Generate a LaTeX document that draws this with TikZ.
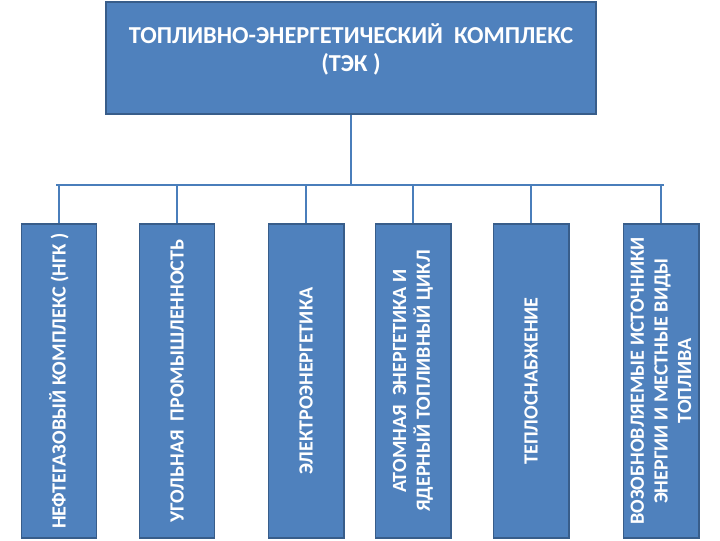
\documentclass[tikz,border=0pt]{standalone}
\usepackage{fontspec}
\setmainfont{Carlito}
\usetikzlibrary{positioning}
\definecolor{tekfill}{HTML}{4F81BD}
\definecolor{tekdraw}{HTML}{385D8A}
\definecolor{tekline}{HTML}{4A7EBB}

\begin{document}
\begin{tikzpicture}[x=0.025cm,y=-0.025cm,
  every node/.style={text=white},
  tekbox/.style={draw=tekdraw,fill=tekfill,line width=1.4pt},
  branch/.style={tekbox,rotate=90,align=center,inner sep=1pt,
    minimum width=7.85cm,minimum height=1.875cm,
    font=\bfseries\fontsize{14.3}{16.8}\selectfont},
  link/.style={tekline,line width=0.8pt}]
  \useasboundingbox (0,0) rectangle (720,540);
  % main box
  \node[tekbox,minimum width=12.25cm,minimum height=2.8cm,anchor=north] (tek) at (351,1) {};
  \node[align=center,font=\bfseries\fontsize{17.3}{19.4}\selectfont] (title) at (351,49.5)
    {ТОПЛИВНО-ЭНЕРГЕТИЧЕСКИЙ\ \ КОМПЛЕКС\\(ТЭК )};
  % branches
  \foreach \n/\x/\t in {ngk/59/{НЕФТЕГАЗОВЫЙ КОМПЛЕКС (НГК )},
                        ugol/177/{УГОЛЬНАЯ\ \ ПРОМЫШЛЕННОСТЬ},
                        elek/306/{ЭЛЕКТРОЭНЕРГЕТИКА},
                        atom/413/{АТОМНАЯ\ \ ЭНЕРГЕТИКА И\\ЯДЕРНЫЙ ТОПЛИВНЫЙ ЦИКЛ},
                        teplo/531/{ТЕПЛОСНАБЖЕНИЕ},
                        vie/661/{ВОЗОБНОВЛЯЕМЫЕ ИСТОЧНИКИ\\ЭНЕРГИИ И МЕСТНЫЕ ВИДЫ\\ТОПЛИВА}}{
    \node[branch] (\n) at (\x,381) {\t};
  }
  % connectors
  \coordinate (bus) at (351,185);
  \coordinate (busL) at (56,185);
  \coordinate (busR) at (664,185);
  \draw[link] (tek.south) -- (bus);
  \draw[link] (busL) -- (busR);
  \foreach \n in {ngk,ugol,elek,atom,teplo,vie}{
    \draw[link] (\n.east |- bus) -- (\n.east);
  }
\end{tikzpicture}
\end{document}
